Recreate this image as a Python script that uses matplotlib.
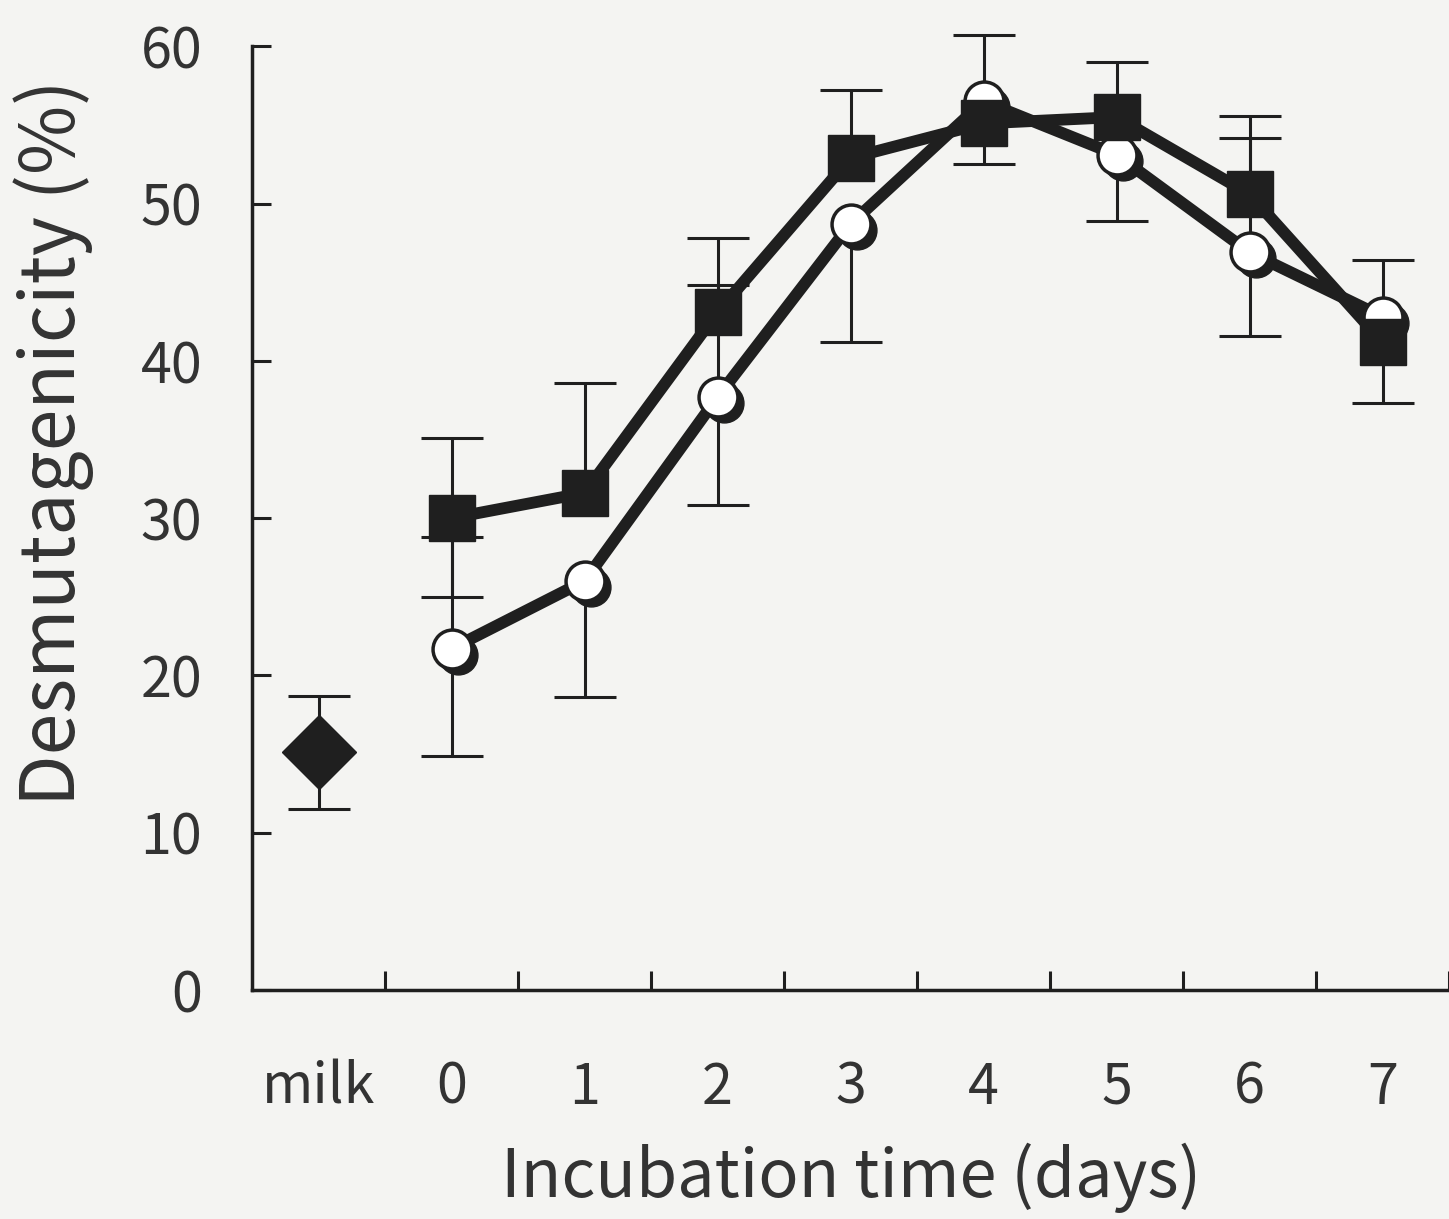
import numpy as np
import matplotlib
matplotlib.use("Agg")
import matplotlib.pyplot as plt
from matplotlib.transforms import offset_copy

plt.rcParams['font.family'] = ['Noto Sans CJK JP', 'DejaVu Sans']

nan = np.nan

# x categories: milk, then incubation days 0-7
labels = ['milk', '0', '1', '2', '3', '4', '5', '6', '7']
days = [1, 2, 3, 4, 5, 6, 7, 8]

# unfermented milk
milk_val = [15.1]
milk_lo = [3.6]
milk_hi = [3.6]

# filled squares (nan = bar not drawn on that side)
sq_val = [30.0, 31.6, 43.1, 52.9, 55.1, 55.5, 50.6, 41.2]
sq_lo = [5.0, nan, nan, nan, nan, nan, nan, 3.9]
sq_hi = [5.1, 7.0, 4.7, 4.3, nan, 3.5, 5.0, nan]

# open circles
ci_val = [21.7, 26.0, 37.7, 48.7, 56.5, 53.1, 46.9, 42.8]
ci_lo = [6.8, 7.4, 6.9, 7.5, 4.0, 4.2, 5.3, nan]
ci_hi = [7.1, nan, 7.1, nan, 4.2, nan, 7.3, 3.6]

ink = '#1f1f1f'
txt = '#333333'
bg = '#f4f4f2'


def bars(ax, x, val, lo, hi):
    # one-sided error bars with caps; nan skips that side
    x = np.asarray(x, float)
    val = np.asarray(val, float)
    for ends in (val - np.asarray(lo, float), val + np.asarray(hi, float)):
        ok = ~np.isnan(ends)
        ax.vlines(x[ok], val[ok], ends[ok], color=ink, lw=2.2, zorder=1,
                  clip_on=False)
        ax.plot(x[ok], ends[ok], ls='none', marker='_', ms=44, mew=2.2,
                color=ink, zorder=1, clip_on=False)


fig = plt.figure(figsize=(14.49, 12.19), dpi=100, facecolor=bg)
ax = fig.add_axes([0.174, 0.188, 0.826, 0.774])
ax.set_facecolor(bg)

bars(ax, [0], milk_val, milk_lo, milk_hi)
bars(ax, days, sq_val, sq_lo, sq_hi)
bars(ax, days, ci_val, ci_lo, ci_hi)

ax.plot(days, ci_val, color=ink, lw=8.5, zorder=2, solid_capstyle='round')
ax.plot(days, sq_val, color=ink, lw=8.5, zorder=2, solid_capstyle='round')

# circles get a dark drop shadow down and to the right
shadow = offset_copy(ax.transData, fig=fig, x=6, y=-6, units='dots')
ax.plot(days, ci_val, ls='none', marker='o', ms=28, mfc=ink, mec=ink,
        transform=shadow, zorder=3, clip_on=False)
ax.plot(days, ci_val, ls='none', marker='o', ms=28, mfc='white', mec=ink,
        mew=2.5, zorder=4, clip_on=False)
ax.plot(days, sq_val, ls='none', marker='s', ms=33, mfc=ink, mec=ink, zorder=5,
        clip_on=False)
ax.plot([0], milk_val, ls='none', marker='D', ms=38, mfc=ink, mec=ink, zorder=5)

ax.set_xlim(-0.5, 8.5)
ax.set_ylim(0, 60)

for side in ['top', 'right']:
    ax.spines[side].set_visible(False)
for side in ['left', 'bottom']:
    ax.spines[side].set_linewidth(2.5)
    ax.spines[side].set_color(ink)

ax.set_yticks(np.arange(0, 61, 10))
ax.tick_params(axis='y', direction='in', length=14, width=2.2, color=ink,
               labelsize=40, labelcolor=txt, pad=36)

# tick marks sit between categories, labels sit under each category
ax.set_xticks(np.arange(0.5, 8.6, 1.0))
ax.set_xticklabels([])
ax.tick_params(axis='x', which='major', direction='in', length=14, width=2.2, color=ink)
ax.set_xticks(np.arange(0, 9), minor=True)
ax.set_xticklabels(labels, minor=True)
ax.tick_params(axis='x', which='minor', length=0, labelsize=40,
               labelcolor=txt, pad=50)

ax.set_ylabel('Desmutagenicity (%)', fontsize=54, color=txt)
ax.yaxis.set_label_coords(-0.132, 0.58)
ax.set_xlabel('Incubation time (days)', fontsize=48, color=txt)
ax.xaxis.set_label_coords(0.5, -0.162)

fig.savefig('out.png', dpi=100, facecolor=bg)
